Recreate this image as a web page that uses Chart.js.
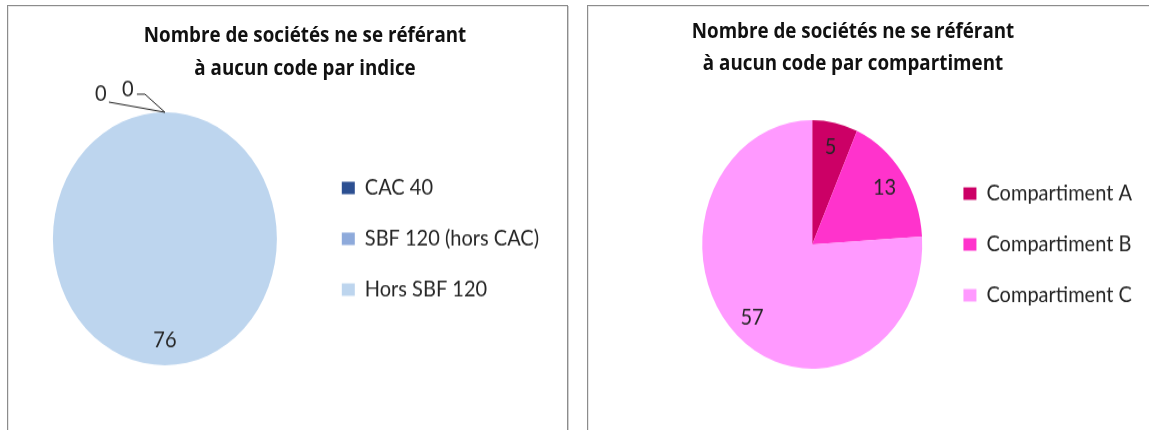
<!DOCTYPE html>
<html lang="fr">
<head>
<meta charset="utf-8">
<script src="https://cdn.jsdelivr.net/npm/chart.js@4"></script>
<style>
  body { margin: 0; width: 1149px; height: 430px; overflow: hidden; background: #fff; position: relative; font-family: Lato, sans-serif; }
  .panel { position: absolute; top: 5px; height: 440px; border: 1px solid #8c8c8c; box-shadow: 1px 1px 0 #d0d0d0, inset 1px 1px 0 #e8e8e8; overflow: hidden; background: #fff; }
  #p1 { left: 7px; width: 559px; }
  #p2 { left: 587px; width: 600px; }
  /* the source charts are stretched vertically */
  .stretch { position: absolute; left: 0; top: 0; transform: scaleY(1.13); transform-origin: 0 0; }
  .stretch canvas { position: absolute; left: 0; top: 0; }
  .title { position: absolute; width: 560px; text-align: center; font: bold 18.8px/28.5px "Open Sans", sans-serif; color: #111; white-space: nowrap; }
</style>
</head>
<body>
<div class="panel" id="p1">
  <div class="stretch">
    <canvas id="chartIndice" width="559" height="375"></canvas>
    <div class="title" style="left:17px;top:11px">Nombre de sociétés ne se référant<br>à aucun code par indice</div>
  </div>
</div>
<div class="panel" id="p2">
  <div class="stretch">
    <canvas id="chartCompartiment" width="560" height="375"></canvas>
    <div class="title" style="left:-15px;top:7.3px">Nombre de sociétés ne se référant<br>à aucun code par compartiment</div>
  </div>
</div>
<script>
const indexLabels = ['CAC 40', 'SBF 120 (hors CAC)', 'Hors SBF 120'];
const indexValues = [0, 0, 76];
const indexColors = ['#2c4f91', '#8eaadb', '#bdd5ee'];

const compLabels = ['Compartiment A', 'Compartiment B', 'Compartiment C'];
const compValues = [5, 13, 57];
const compColors = ['#cc0066', '#ff33cc', '#ff99ff'];

// values written inside the slices, zero slices get a label outside with a leader line
const sliceLabels = {
  id: 'sliceLabels',
  afterDatasetsDraw(chart, args, opts) {
    const ctx = chart.ctx;
    const values = chart.data.datasets[0].data;
    ctx.save();
    ctx.font = opts.font;
    ctx.fillStyle = opts.color;
    ctx.strokeStyle = opts.lineColor;
    ctx.lineWidth = 1;
    ctx.textAlign = 'center';
    ctx.textBaseline = 'middle';
    chart.getDatasetMeta(0).data.forEach((arc, i) => {
      const { x, y, startAngle, endAngle, outerRadius } = arc.getProps(['x', 'y', 'startAngle', 'endAngle', 'outerRadius'], true);
      if (values[i] > 0) {
        const mid = (startAngle + endAngle) / 2;
        const d = outerRadius * opts.inset;
        ctx.fillText(values[i], x + Math.cos(mid) * d, y + Math.sin(mid) * d);
        return;
      }
      const c = opts.callouts && opts.callouts[i];
      if (!c) return;
      const ax = x + Math.cos(startAngle) * outerRadius;
      const ay = y + Math.sin(startAngle) * outerRadius;
      ctx.beginPath();
      c.line.forEach((p, j) => {
        if (j === 0) ctx.moveTo(ax + p[0], ay + p[1]);
        else ctx.lineTo(ax + p[0], ay + p[1]);
      });
      ctx.stroke();
      ctx.fillText(values[i], ax + c.dx, ay + c.dy);
    });
    ctx.restore();
  }
};

const makePie = (id, labels, values, colors, padding, labelOpts) => {
  return new Chart(document.getElementById(id), {
    type: 'pie',
    data: {
      labels: labels,
      datasets: [{
        data: values,
        backgroundColor: colors,
        borderWidth: 0,
      }],
    },
    options: {
      responsive: false,
      animation: false,
      events: [],
      layout: { padding: padding },
      plugins: {
        title: { display: false },
        tooltip: { enabled: false },
        legend: {
          position: 'right',
          fullSize: false,
          labels: {
            boxWidth: 13,
            boxHeight: 11,
            padding: 25,
            color: '#262626',
            font: { family: 'Lato', size: 20 },
          },
        },
        sliceLabels: labelOpts,
      },
    },
    plugins: [sliceLabels],
  });
};

makePie('chartIndice', indexLabels, indexValues, indexColors,
  { left: 5, top: 94, bottom: 57, right: 18 },
  {
    font: '20px Lato',
    color: '#262626',
    lineColor: '#262626',
    inset: 0.8,
    callouts: {
      0: { dx: -64, dy: -16, line: [[-56, -9], [0, 0]] },
      1: { dx: -37, dy: -20, line: [[-28, -16], [-20, -16], [0, 0]] },
    },
  });

makePie('chartCompartiment', compLabels, compValues, compColors,
  { left: 98, top: 101, bottom: 54, right: 6 },
  {
    font: '20px Lato',
    color: '#262626',
    lineColor: '#262626',
    inset: 0.8,
  });
</script>
</body>
</html>
